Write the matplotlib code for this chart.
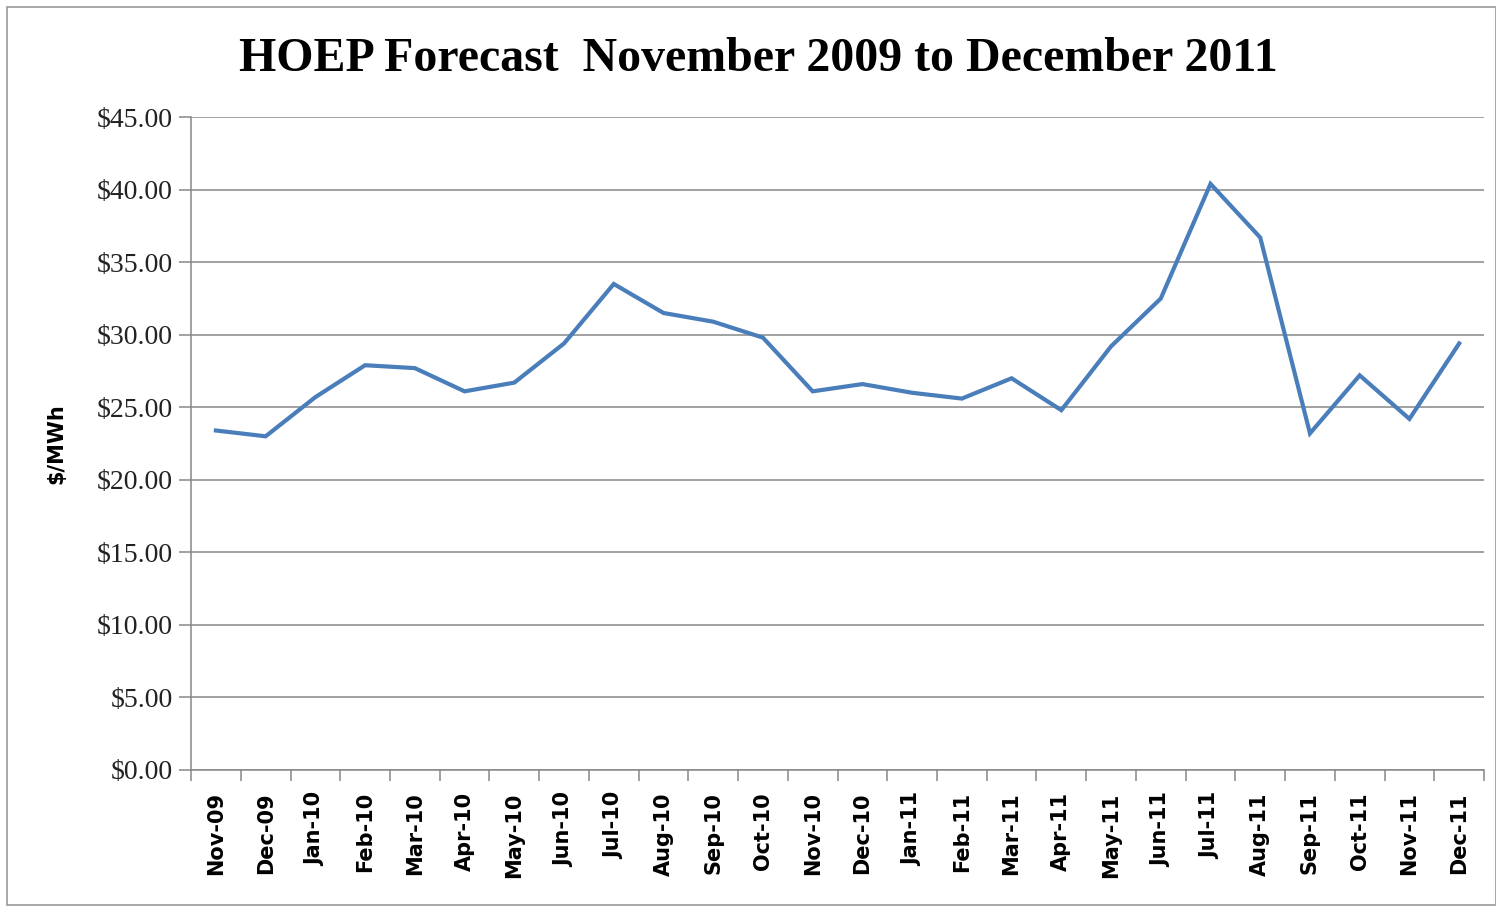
import matplotlib
matplotlib.use("Agg")
import matplotlib.pyplot as plt
from matplotlib.patches import Rectangle
from matplotlib.ticker import FuncFormatter, MultipleLocator
import numpy as np

# ── Data ────────────────────────────────────────────────────────────────
months = [
    "Nov-09", "Dec-09", "Jan-10", "Feb-10", "Mar-10", "Apr-10", "May-10",
    "Jun-10", "Jul-10", "Aug-10", "Sep-10", "Oct-10", "Nov-10", "Dec-10",
    "Jan-11", "Feb-11", "Mar-11", "Apr-11", "May-11", "Jun-11", "Jul-11",
    "Aug-11", "Sep-11", "Oct-11", "Nov-11", "Dec-11",
]
hoep = [
    23.4, 23.0, 25.7, 27.9, 27.7, 26.1, 26.7,
    29.4, 33.5, 31.5, 30.9, 29.8, 26.1, 26.6,
    26.0, 25.6, 27.0, 24.8, 29.2, 32.5, 40.4,
    36.7, 23.2, 27.2, 24.2, 29.4,
]

GRID = "#878787"
LINE = "#4A7EBB"

fig = plt.figure(figsize=(14.96, 9.08), dpi=100)
ax = fig.add_axes([0.1277, 0.152, 0.8643, 0.719])

x = np.arange(len(months))
ax.plot(x, hoep, color=LINE, linewidth=3.0, solid_joinstyle="miter")

ax.set_xlim(-0.5, len(months) - 0.5)
ax.set_ylim(0, 45)
ax.yaxis.set_major_locator(MultipleLocator(5))
ax.yaxis.set_major_formatter(FuncFormatter(lambda v, _: f"${v:.2f}"))
ax.grid(axis="y", color=GRID, linewidth=1.1)
ax.set_axisbelow(True)

# category labels at centres, tick marks at boundaries
ax.set_xticks(x)
ax.set_xticklabels(months, rotation=90, fontsize=15, fontweight="bold",
                   family="DejaVu Sans")
ax.set_xticks(np.arange(len(months) + 1) - 0.5, minor=True)
ax.tick_params(axis="x", which="major", length=0, pad=16)
ax.tick_params(axis="x", which="minor", length=8, color=GRID, width=1.1)
ax.tick_params(axis="y", length=9, color=GRID, width=1.1, pad=4)
for lbl in ax.get_yticklabels():
    lbl.set_family("Liberation Serif")
    lbl.set_fontsize(20)
    lbl.set_color("#222222")

for side in ("top", "right"):
    ax.spines[side].set_visible(False)
for side in ("left", "bottom"):
    ax.spines[side].set_color(GRID)
    ax.spines[side].set_linewidth(1.1)

ax.set_ylabel("$/MWh", fontsize=15, fontweight="bold", labelpad=22)

fig.text(0.507, 0.935, "HOEP Forecast  November 2009 to December 2011",
         ha="center", va="center", family="Liberation Serif",
         fontsize=34.5, fontweight="bold")

# chart frame
fig.patches.append(Rectangle((0.005, 0.003), 0.995, 0.989, transform=fig.transFigure,
                             fill=False, edgecolor="#9a9a9a", linewidth=1.2))

fig.savefig("out.png", dpi=100)
